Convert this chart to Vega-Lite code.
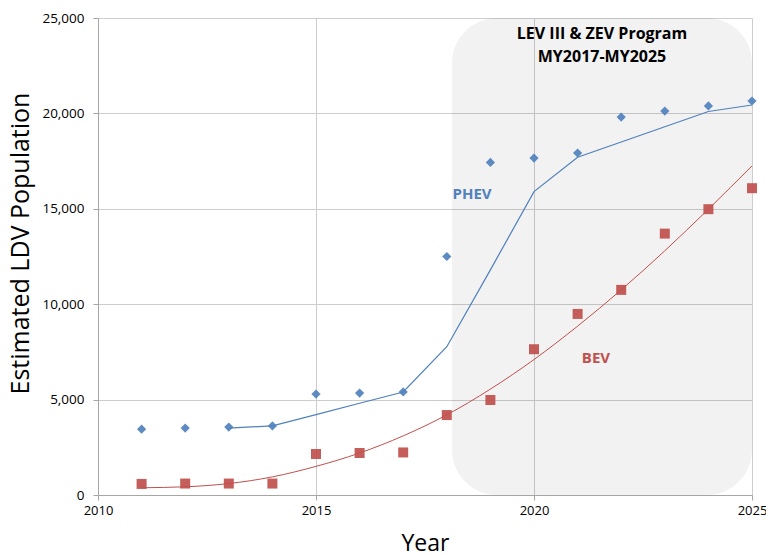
{
  "$schema": "https://vega.github.io/schema/vega-lite/v6.json",
  "width": 654,
  "height": 477,
  "autosize": {"type": "none"},
  "padding": {"left": 98, "top": 18, "right": 14, "bottom": 61},
  "background": "white",
  "config": {"view": {"stroke": null}, "font": "Open Sans"},
  "datasets": {
    "points": [
      {"year": 2011, "series": "PHEV", "value": 3450},
      {"year": 2012, "series": "PHEV", "value": 3510},
      {"year": 2013, "series": "PHEV", "value": 3560},
      {"year": 2014, "series": "PHEV", "value": 3620},
      {"year": 2015, "series": "PHEV", "value": 5290},
      {"year": 2016, "series": "PHEV", "value": 5345},
      {"year": 2017, "series": "PHEV", "value": 5400},
      {"year": 2018, "series": "PHEV", "value": 12500},
      {"year": 2019, "series": "PHEV", "value": 17430},
      {"year": 2020, "series": "PHEV", "value": 17660},
      {"year": 2021, "series": "PHEV", "value": 17925},
      {"year": 2022, "series": "PHEV", "value": 19810},
      {"year": 2023, "series": "PHEV", "value": 20125},
      {"year": 2024, "series": "PHEV", "value": 20390},
      {"year": 2025, "series": "PHEV", "value": 20650},
      {"year": 2011, "series": "BEV", "value": 580},
      {"year": 2012, "series": "BEV", "value": 600},
      {"year": 2013, "series": "BEV", "value": 600},
      {"year": 2014, "series": "BEV", "value": 600},
      {"year": 2015, "series": "BEV", "value": 2150},
      {"year": 2016, "series": "BEV", "value": 2200},
      {"year": 2017, "series": "BEV", "value": 2230},
      {"year": 2018, "series": "BEV", "value": 4190},
      {"year": 2019, "series": "BEV", "value": 4980},
      {"year": 2020, "series": "BEV", "value": 7640},
      {"year": 2021, "series": "BEV", "value": 9490},
      {"year": 2022, "series": "BEV", "value": 10750},
      {"year": 2023, "series": "BEV", "value": 13700},
      {"year": 2024, "series": "BEV", "value": 14980},
      {"year": 2025, "series": "BEV", "value": 16080}
    ],
    "phevTrend": [
      {"year": 2013, "trend": 3510},
      {"year": 2014, "trend": 3620},
      {"year": 2015, "trend": 4210},
      {"year": 2016, "trend": 4810},
      {"year": 2017, "trend": 5400},
      {"year": 2018, "trend": 7770},
      {"year": 2019, "trend": 11800},
      {"year": 2020, "trend": 15900},
      {"year": 2021, "trend": 17700},
      {"year": 2022, "trend": 18500},
      {"year": 2023, "trend": 19300},
      {"year": 2024, "trend": 20100},
      {"year": 2025, "trend": 20440}
    ],
    "bevTrend": [
      {"year": 2011, "trend": 380},
      {"year": 2012, "trend": 430},
      {"year": 2013, "trend": 600},
      {"year": 2014, "trend": 950},
      {"year": 2015, "trend": 1500},
      {"year": 2016, "trend": 2200},
      {"year": 2017, "trend": 3100},
      {"year": 2018, "trend": 4200},
      {"year": 2019, "trend": 5550},
      {"year": 2020, "trend": 7100},
      {"year": 2021, "trend": 8850},
      {"year": 2022, "trend": 10750},
      {"year": 2023, "trend": 12800},
      {"year": 2024, "trend": 14980},
      {"year": 2025, "trend": 17250}
    ],
    "region": [{"start": 2018.12, "end": 2025, "low": 0, "high": 25000}],
    "notes": [
      {"year": 2021.56, "value": 24160, "text": "LEV III & ZEV Program"},
      {"year": 2021.56, "value": 22960, "text": "MY2017-MY2025"}
    ],
    "seriesLabels": [
      {"year": 2018.58, "value": 15780, "text": "PHEV", "series": "PHEV"},
      {"year": 2021.42, "value": 7180, "text": "BEV", "series": "BEV"}
    ]
  },
  "layer": [
    {
      "data": {"name": "region"},
      "mark": {"type": "rect", "fill": "#000000", "fillOpacity": 0.05, "cornerRadius": 45},
      "encoding": {
        "x": {
          "field": "start", "type": "quantitative",
          "scale": {"domain": [2010, 2025], "nice": false, "zero": false},
          "axis": {
            "values": [2010, 2015, 2020, 2025], "format": "d", "grid": true,
            "gridColor": "#cdcdcd", "gridWidth": 1,
            "domainColor": "#a6a6a6", "tickColor": "#a6a6a6", "tickSize": 5,
            "labelFont": "Open Sans", "labelFontSize": 13, "labelColor": "#000000", "labelPadding": 4,
            "labelFlush": false,
            "title": "Year", "titleFont": "Open Sans", "titleFontSize": 23, "titleFontWeight": "normal",
            "titleColor": "#000000", "titleX": 327, "titleY": 55, "titleBaseline": "alphabetic", "titleAlign": "center"
          }
        },
        "x2": {"field": "end"},
        "y": {
          "field": "low", "type": "quantitative",
          "scale": {"domain": [0, 25000], "nice": false},
          "axis": {
            "values": [0, 5000, 10000, 15000, 20000, 25000], "format": ",d", "grid": true,
            "gridColor": "#cdcdcd", "gridWidth": 1,
            "domainColor": "#a6a6a6", "tickColor": "#a6a6a6", "tickSize": 5,
            "labelFont": "Open Sans", "labelFontSize": 13.5, "labelColor": "#000000", "labelPadding": 9,
            "title": "Estimated LDV Population", "titleFont": "Open Sans", "titleFontSize": 25, "titleFontWeight": "normal",
            "titleColor": "#000000", "titleAngle": -90, "titleX": -70, "titleY": 225,
            "titleBaseline": "alphabetic", "titleAlign": "center"
          }
        },
        "y2": {"field": "high"}
      }
    },
    {
      "data": {"name": "phevTrend"},
      "mark": {"type": "line", "color": "#4f81bd", "strokeWidth": 1.2},
      "encoding": {
        "x": {"field": "year", "type": "quantitative"},
        "y": {"field": "trend", "type": "quantitative"}
      }
    },
    {
      "data": {"name": "bevTrend"},
      "mark": {"type": "line", "color": "#c0504d", "strokeWidth": 1, "interpolate": "monotone"},
      "encoding": {
        "x": {"field": "year", "type": "quantitative"},
        "y": {"field": "trend", "type": "quantitative"}
      }
    },
    {
      "data": {"name": "points"},
      "mark": {"type": "point", "filled": true, "opacity": 0.92},
      "encoding": {
        "x": {"field": "year", "type": "quantitative"},
        "y": {"field": "value", "type": "quantitative"},
        "shape": {"field": "series", "type": "nominal", "scale": {"domain": ["PHEV", "BEV"], "range": ["diamond", "square"]}, "legend": null},
        "color": {"field": "series", "type": "nominal", "scale": {"domain": ["PHEV", "BEV"], "range": ["#4f81bd", "#c0504d"]}, "legend": null},
        "size": {"field": "series", "type": "nominal", "scale": {"domain": ["PHEV", "BEV"], "range": [85, 100]}, "legend": null}
      }
    },
    {
      "data": {"name": "notes"},
      "mark": {"type": "text", "font": "Open Sans", "fontSize": 16, "fontWeight": "bold", "color": "#000000", "align": "center", "baseline": "middle"},
      "encoding": {
        "x": {"field": "year", "type": "quantitative"},
        "y": {"field": "value", "type": "quantitative"},
        "text": {"field": "text"}
      }
    },
    {
      "data": {"name": "seriesLabels"},
      "mark": {"type": "text", "font": "Open Sans", "fontSize": 15, "fontWeight": "bold", "align": "center", "baseline": "middle"},
      "encoding": {
        "x": {"field": "year", "type": "quantitative"},
        "y": {"field": "value", "type": "quantitative"},
        "text": {"field": "text"},
        "color": {"field": "series", "type": "nominal", "scale": {"domain": ["PHEV", "BEV"], "range": ["#4f81bd", "#c0504d"]}, "legend": null}
      }
    }
  ]
}
